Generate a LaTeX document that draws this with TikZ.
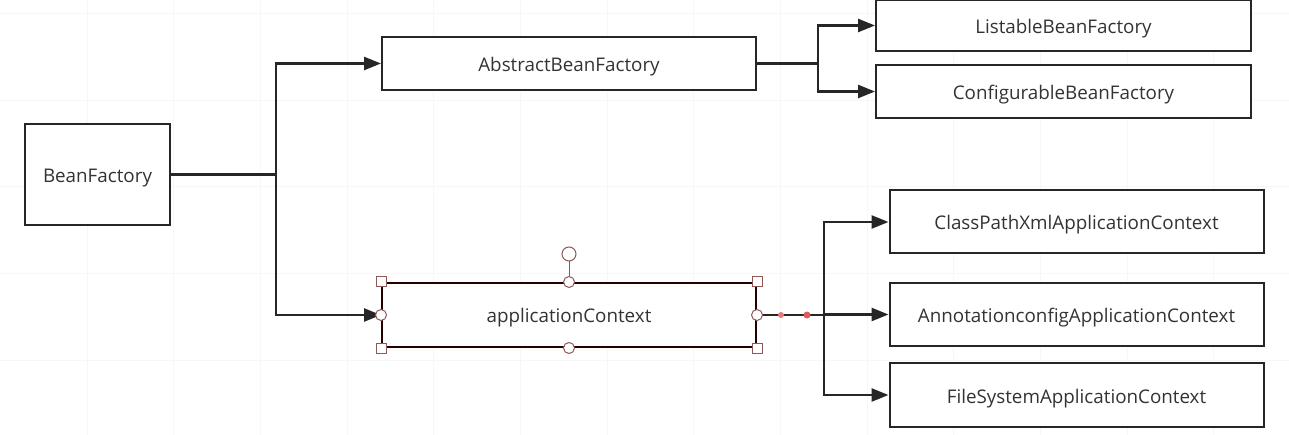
\documentclass[tikz,border=0pt]{standalone}
\usepackage{fontspec}
\setmainfont{Open Sans}
\usetikzlibrary{arrows.meta}
\definecolor{handle}{HTML}{8E5858}
\definecolor{reddot}{HTML}{E05A5A}
\tikzset{
  box/.style={draw=black!85, line width=2pt, fill=white, inner sep=0pt, font=\fontsize{18.8}{22}\selectfont, text=black!80, text height=16pt, text depth=0pt},
  conn/.style={draw=black!85, line width=2.5pt},
  arr/.style={conn, -{Triangle[length=17pt,width=13pt]}},
  hsq/.style={draw=handle, fill=white, line width=1pt, minimum size=10pt, inner sep=0pt, shape=rectangle},
  hci/.style={draw=handle, fill=white, line width=1pt, minimum size=11pt, inner sep=0pt, shape=circle},
}
\begin{document}
\begin{tikzpicture}[x=1pt,y=-1pt]
\useasboundingbox (0,0) rectangle (1289,435);
\fill[white] (0,0) rectangle (1289,435);
\foreach \gx in {87,173,260,347,433,520,607,693,780,867,953,1040,1127,1213}
  \draw[black!3, line width=0.8pt] (\gx,0) -- (\gx,435);
\foreach \gy in {13,100,186,273,360}
  \draw[black!3, line width=0.8pt] (0,\gy) -- (1289,\gy);

\node[box, minimum width=145pt, minimum height=101pt] (bf) at (97.5,174.5) {BeanFactory};
\node[box, minimum width=374pt, minimum height=53pt] (abf) at (569,63.5) {AbstractBeanFactory};
\node[box, draw=black!80!red!70!black, minimum width=374pt, minimum height=64pt] (ac) at (569,315) {applicationContext};
\node[box, minimum width=375pt, minimum height=51pt] (lbf) at (1063.5,25.5) {ListableBeanFactory};
\node[box, minimum width=375pt, minimum height=53pt] (cbf) at (1063.5,91.5) {ConfigurableBeanFactory};
\node[box, minimum width=374pt, minimum height=63pt] (cpx) at (1076.5,222) {ClassPathXmlApplicationContext};
\node[box, minimum width=374pt, minimum height=63pt] (anc) at (1076.5,314.5) {AnnotationconfigApplicationContext};
\node[box, minimum width=374pt, minimum height=64pt] (fsc) at (1076.5,395) {FileSystemApplicationContext};

% BeanFactory branches
\draw[conn] (bf.east) -- ++(105,0) coordinate (j1);
\draw[arr] (j1) |- (abf.west);
\draw[arr] (j1) |- (ac.west);

% AbstractBeanFactory branches
\draw[conn] (abf.east) -- ++(61,0) coordinate (j2);
\draw[arr] (j2) |- (lbf.west);
\draw[arr] (j2) |- (cbf.west);

% applicationContext branches
\draw[conn] (ac.east) -- ++(67,0) coordinate (j3);
\draw[arr] (j3) |- (cpx.west);
\draw[arr] (j3) |- (anc.west);
\draw[arr] (j3) |- (fsc.west);

% selection handles
\node[hci, minimum size=14pt] (hr) at (569,254) {};
\node[hsq] (h1) at (ac.north west) {};
\node[hsq] (h2) at (ac.north east) {};
\node[hsq] (h3) at (ac.south west) {};
\node[hsq] (h4) at (ac.south east) {};
\node[hci] (h5) at (ac.west) {};
\node[hci] (h6) at (ac.east) {};
\node[hci] (h7) at (ac.north) {};
\node[hci] (h8) at (ac.south) {};
\draw[handle, line width=1pt] (h7) -- (hr);
\fill[reddot!80] (781,315) circle (3pt);
\fill[reddot] (807,315) circle (3.5pt);
\end{tikzpicture}
\end{document}
